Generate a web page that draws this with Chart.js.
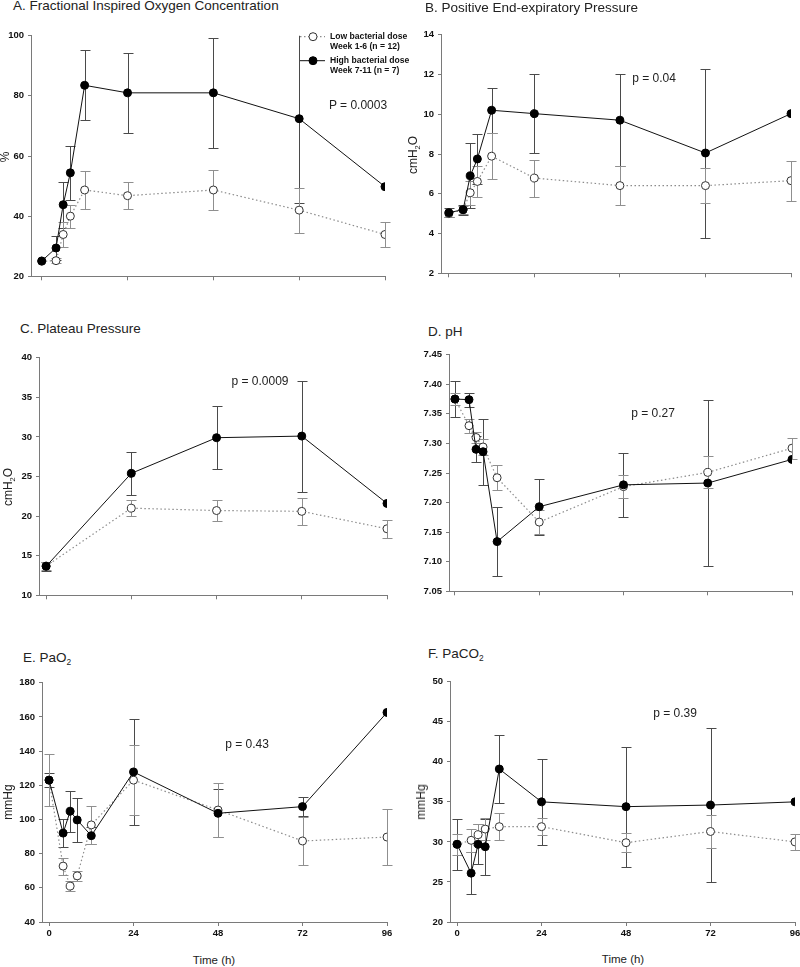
<!DOCTYPE html>
<html>
<head>
<meta charset="utf-8">
<title>Ventilation and blood gases by bacterial dose</title>
<script src="https://cdn.jsdelivr.net/npm/chart.js@4.4.1/dist/chart.umd.min.js"></script>
<style>
  html, body { margin: 0; padding: 0; background: #fff; }
  body {
    width: 800px; height: 967px; position: relative; overflow: hidden;
    font-family: "Liberation Sans", Arial, sans-serif; color: #222;
  }
  .panel { position: absolute; }
  .panel canvas { display: block; }
  .title { position: absolute; font-size: 13.5px; line-height: 1; white-space: nowrap; }
  .pval { position: absolute; font-size: 12px; line-height: 1; white-space: nowrap; transform: translate(-50%, -50%); }
  .ytitle { position: absolute; font-size: 12px; line-height: 1; white-space: nowrap; transform: translate(-50%, -50%) rotate(-90deg); }
  .xtitle { position: absolute; font-size: 11.5px; line-height: 1; white-space: nowrap; transform: translate(-50%, -50%); }
  sub { font-size: 62%; vertical-align: -0.35em; line-height: 0; }
</style>
</head>
<body>

<div id="chart-a" class="panel"></div>
<div id="chart-b" class="panel"></div>
<div id="chart-c" class="panel"></div>
<div id="chart-d" class="panel"></div>
<div id="chart-e" class="panel"></div>
<div id="chart-f" class="panel"></div>

<div class="title" style="left:13px;top:-1px">A. Fractional Inspired Oxygen Concentration</div>
<div class="title" style="left:425px;top:1px">B. Positive End-expiratory Pressure</div>
<div class="title" style="left:20px;top:322px">C. Plateau Pressure</div>
<div class="title" style="left:428px;top:325px">D. pH</div>
<div class="title" style="left:23px;top:651px">E. PaO<sub>2</sub></div>
<div class="title" style="left:428px;top:647px">F. PaCO<sub>2</sub></div>

<div class="pval" style="left:358px;top:105px">P = 0.0003</div>
<div class="pval" style="left:654px;top:78px">p = 0.04</div>
<div class="pval" style="left:260px;top:381px">p = 0.0009</div>
<div class="pval" style="left:653px;top:413px">p = 0.27</div>
<div class="pval" style="left:247px;top:744px">p = 0.43</div>
<div class="pval" style="left:675px;top:713px">p = 0.39</div>

<div class="ytitle" style="left:5px;top:157px">%</div>
<div class="ytitle" style="left:413px;top:155px">cmH<sub>2</sub>O</div>
<div class="ytitle" style="left:8px;top:487px">cmH<sub>2</sub>O</div>
<div class="ytitle" style="left:8px;top:802px">mmHg</div>
<div class="ytitle" style="left:421px;top:802px">mmHg</div>

<div class="xtitle" style="left:214px;top:961px">Time (h)</div>
<div class="xtitle" style="left:623px;top:960px">Time (h)</div>

<script>
// ── Data (mean and error half-width) ──────────────────────────────────
var hours = [0, 4, 6, 8, 12, 24, 48, 72, 96];
var days = [0, 24, 48, 72, 96];
var xTicks = [0, 24, 48, 72, 96];

// A. FiO2 (%)
var fio2Low = [25.0, 25.2, 33.9, 40.0, 48.7, 46.8, 48.7, 42.0, 33.9];
var fio2LowErr = [0, 0.8, 4.0, 3.8, 6.2, 4.5, 6.8, 7.5, 4.1];
var fio2High = [25.1, 29.4, 43.8, 54.4, 83.5, 81.0, 81.0, 72.4, 49.8];
var fio2HighErr = [0, 4.0, 7.6, 9.0, 11.6, 13.2, 18.2, 28.0, 0];
var fio2Ticks = [20, 40, 60, 80, 100];

// B. PEEP (cmH2O)
var peepLow = [5.0, 5.2, 6.05, 6.62, 7.89, 6.79, 6.41, 6.41, 6.66];
var peepLowErr = [0.15, 0.2, 0.6, 0.77, 1.15, 0.93, 0.97, 0.88, 1.0];
var peepHigh = [5.05, 5.2, 6.9, 7.75, 10.2, 10.03, 9.7, 8.05, 10.03];
var peepHighErr = [0.22, 0.25, 1.64, 1.28, 1.13, 1.97, 2.3, 4.25, 0];
var peepTicks = [2, 4, 6, 8, 10, 12, 14];

// C. Plateau pressure (cmH2O)
var platLow = [13.7, 21.0, 20.7, 20.6, 18.4];
var platLowErr = [0.5, 1.0, 1.35, 1.7, 1.15];
var platHigh = [13.66, 25.4, 29.9, 30.1, 21.6];
var platHighErr = [0.6, 2.7, 4.0, 7.0, 0];
var platTicks = [10, 15, 20, 25, 30, 35, 40];

// D. pH
var phLow = [7.375, 7.330, 7.310, 7.294, 7.242, 7.167, 7.227, 7.251, 7.292];
var phLowErr = [0.010, 0.012, 0.010, 0.014, 0.021, 0.020, 0.020, 0.027, 0.018];
var phHigh = [7.375, 7.374, 7.290, 7.286, 7.134, 7.193, 7.230, 7.233, 7.273];
var phHighErr = [0.030, 0.012, 0.022, 0.056, 0.058, 0.047, 0.054, 0.141, 0];
var phTicks = [7.05, 7.10, 7.15, 7.20, 7.25, 7.30, 7.35, 7.40, 7.45];

// E. PaO2 (mmHg)
var pao2Low = [123, 72.7, 61, 67, 96.8, 123, 105.5, 87.4, 89.7];
var pao2LowErr = [15, 5, 3, 3, 11, 20.5, 16, 14, 16.5];
var pao2High = [123, 92, 104.8, 99.7, 90.5, 127.8, 103.6, 107.5, 162.6];
var pao2HighErr = [4, 8, 12, 13, 5, 31, 14, 5.5, 0];
var pao2Ticks = [40, 60, 80, 100, 120, 140, 160, 180];

// F. PaCO2 (mmHg)
var paco2Low = [29.7, 30.2, 30.9, 31.6, 31.9, 31.9, 29.9, 31.3, 30.0];
var paco2LowErr = [1.3, 1.4, 1.3, 1.4, 1.7, 1.1, 1.2, 2.0, 1.0];
var paco2High = [29.7, 26.1, 29.7, 29.4, 39.1, 35.0, 34.4, 34.6, 35.0];
var paco2HighErr = [3.2, 2.6, 2.5, 3.5, 4.2, 5.4, 7.5, 9.6, 0];
var paco2Ticks = [20, 25, 30, 35, 40, 45, 50];

var lowLabel = ["Low bacterial dose", "Week 1-6 (n = 12)"];
var highLabel = ["High bacterial dose", "Week 7-11 (n = 7)"];

(function () {
  "use strict";

  var FONT = '"Liberation Sans", Arial, sans-serif';
  var AXIS = "#7a7a7a";
  var INK = "#111";

  Chart.defaults.font.family = FONT;

  // ── Panel layout (plot-area edges in page pixels) ────────────────────
  var panels = [
    { el: "chart-a", times: hours, low: fio2Low, lowErr: fio2LowErr, high: fio2High, highErr: fio2HighErr,
      yTicks: fio2Ticks, box: { l: 31, t: 34, r: 385, b: 280 }, xMin: -3, xLabels: false, legend: true },
    { el: "chart-b", times: hours, low: peepLow, lowErr: peepLowErr, high: peepHigh, highErr: peepHighErr,
      yTicks: peepTicks, box: { l: 441, t: 33, r: 791, b: 277 }, xMin: -2.2, xLabels: false },
    { el: "chart-c", times: days, low: platLow, lowErr: platLowErr, high: platHigh, highErr: platHighErr,
      yTicks: platTicks, box: { l: 39, t: 356, r: 387, b: 599 }, xMin: -2, xLabels: false },
    { el: "chart-d", times: hours, low: phLow, lowErr: phLowErr, high: phHigh, highErr: phHighErr,
      yTicks: phTicks, box: { l: 449, t: 353, r: 792, b: 595 }, xMin: -1.7, xLabels: false, decimals: 2 },
    { el: "chart-e", times: hours, low: pao2Low, lowErr: pao2LowErr, high: pao2High, highErr: pao2HighErr,
      yTicks: pao2Ticks, box: { l: 42, t: 681, r: 387, b: 922 }, xMin: -2, xLabels: true },
    { el: "chart-f", times: hours, low: paco2Low, lowErr: paco2LowErr, high: paco2High, highErr: paco2HighErr,
      yTicks: paco2Ticks, box: { l: 450, t: 680, r: 795, b: 922 }, xMin: -2, xLabels: true }
  ];

  function toPoints(xs, ys) {
    return xs.map(function (x, i) { return { x: x, y: ys[i] }; });
  }

  // ── Error bars, drawn under the markers ──────────────────────────────
  var errorBars = {
    id: "errorBars",
    beforeDatasetsDraw: function (chart) {
      var ctx = chart.ctx, ys = chart.scales.y, area = chart.chartArea;
      ctx.save();
      ctx.beginPath();
      ctx.rect(area.left - 6, area.top, area.width + 12, area.height);
      ctx.clip();
      ctx.lineWidth = 1;
      chart.data.datasets.forEach(function (ds, i) {
        var meta = chart.getDatasetMeta(i);
        ctx.strokeStyle = ds.errColor;
        meta.data.forEach(function (pt, j) {
          var e = ds.errors[j];
          if (!e) return;
          var v = ds.data[j].y;
          var x = Math.round(pt.x) + 0.5;
          var top = Math.round(ys.getPixelForValue(v + e)) + 0.5;
          var bot = Math.round(ys.getPixelForValue(v - e)) + 0.5;
          ctx.beginPath();
          ctx.moveTo(x, top); ctx.lineTo(x, bot);
          ctx.moveTo(x - 5, top); ctx.lineTo(x + 5, top);
          ctx.moveTo(x - 5, bot); ctx.lineTo(x + 5, bot);
          ctx.stroke();
        });
      });
      ctx.restore();
    }
  };

  // ── Legend inside panel A ────────────────────────────────────────────
  var groupLegend = {
    id: "groupLegend",
    afterDraw: function (chart) {
      if (!chart.options.plugins.groupLegend.show) return;
      var ctx = chart.ctx, area = chart.chartArea;
      var rows = [
        { ds: chart.data.datasets[1], text: lowLabel, y: area.top + 1 },
        { ds: chart.data.datasets[0], text: highLabel, y: area.top + 25 }
      ];
      var x0 = area.right - 85, x1 = area.right - 60, cx = area.right - 72, tx = area.right - 55;
      ctx.save();
      rows.forEach(function (r) {
        ctx.strokeStyle = r.ds.borderColor;
        ctx.lineWidth = r.ds.borderWidth;
        ctx.setLineDash(r.ds.borderDash || []);
        ctx.beginPath();
        ctx.moveTo(x0, r.y); ctx.lineTo(x1, r.y);
        ctx.stroke();
        ctx.setLineDash([]);
        ctx.beginPath();
        ctx.arc(cx, r.y, r.ds.pointRadius, 0, Math.PI * 2);
        ctx.fillStyle = r.ds.pointBackgroundColor;
        ctx.fill();
        ctx.lineWidth = r.ds.pointBorderWidth;
        ctx.strokeStyle = r.ds.pointBorderColor;
        ctx.stroke();
        ctx.fillStyle = INK;
        ctx.font = "bold 8.6px " + FONT;
        ctx.textBaseline = "middle";
        ctx.fillText(r.text[0], tx, r.y);
        ctx.fillText(r.text[1], tx, r.y + 10);
      });
      ctx.restore();
    }
  };

  // ── Chart initialisation ─────────────────────────────────────────────
  function buildChart(p) {
    var yW = 32, padTop = 8;
    var padR = p.legend ? 26 : 8;
    var xH = p.xLabels ? 24 : 6;
    var box = p.box;
    var w = box.r - box.l + yW + padR;
    var h = box.b - box.t + padTop + xH;

    var holder = document.getElementById(p.el);
    holder.style.left = (box.l - yW) + "px";
    holder.style.top = (box.t - padTop) + "px";
    holder.style.width = w + "px";
    holder.style.height = h + "px";
    var canvas = document.createElement("canvas");
    canvas.width = w; canvas.height = h;
    canvas.style.width = w + "px"; canvas.style.height = h + "px";
    holder.appendChild(canvas);

    var tickFont = { family: FONT, size: 9.5, weight: "bold" };

    new Chart(canvas.getContext("2d"), {
      type: "line",
      data: {
        datasets: [{
          label: highLabel.join(" "),
          data: toPoints(p.times, p.high),
          errors: p.highErr,
          errColor: "#4a4a4a",
          borderColor: "#111",
          borderWidth: 1,
          pointRadius: 4,
          pointBackgroundColor: "#000",
          pointBorderColor: "#000",
          pointBorderWidth: 1,
          tension: 0,
          order: 0
        }, {
          label: lowLabel.join(" "),
          data: toPoints(p.times, p.low),
          errors: p.lowErr,
          errColor: "#8f8f8f",
          borderColor: "#8c8c8c",
          borderWidth: 1.2,
          borderDash: [1.5, 2.5],
          pointRadius: 4,
          pointBackgroundColor: "#fff",
          pointBorderColor: "#333",
          pointBorderWidth: 1,
          tension: 0,
          order: 1
        }]
      },
      options: {
        responsive: false,
        animation: false,
        devicePixelRatio: 1,
        layout: { autoPadding: false, padding: { left: 0, top: padTop, right: padR, bottom: 0 } },
        plugins: {
          legend: { display: false },
          tooltip: { enabled: false },
          groupLegend: { show: !!p.legend }
        },
        scales: {
          x: {
            type: "linear",
            min: p.xMin,
            max: 96,
            afterBuildTicks: function (s) { s.ticks = xTicks.map(function (v) { return { value: v }; }); },
            afterFit: function (s) { s.height = xH; },
            ticks: {
              display: p.xLabels, font: tickFont, color: INK, padding: 2,
              maxRotation: 0, autoSkip: false,
              callback: function (v) { return String(v); }
            },
            grid: { display: true, drawOnChartArea: false, drawTicks: true, tickLength: 4, color: AXIS },
            border: { display: true, color: AXIS, width: 1 }
          },
          y: {
            type: "linear",
            min: p.yTicks[0],
            max: p.yTicks[p.yTicks.length - 1],
            afterBuildTicks: function (s) { s.ticks = p.yTicks.map(function (v) { return { value: v }; }); },
            afterFit: function (s) { s.width = yW; },
            ticks: {
              font: tickFont, color: INK, padding: 4, autoSkip: false,
              callback: function (v) { return p.decimals ? v.toFixed(p.decimals) : String(v); }
            },
            grid: { display: true, drawOnChartArea: false, drawTicks: true, tickLength: 3, color: AXIS },
            border: { display: true, color: AXIS, width: 1 }
          }
        }
      },
      plugins: [errorBars, groupLegend]
    });
  }

  // ── Boot ─────────────────────────────────────────────────────────────
  panels.forEach(buildChart);
})();
</script>
</body>
</html>
